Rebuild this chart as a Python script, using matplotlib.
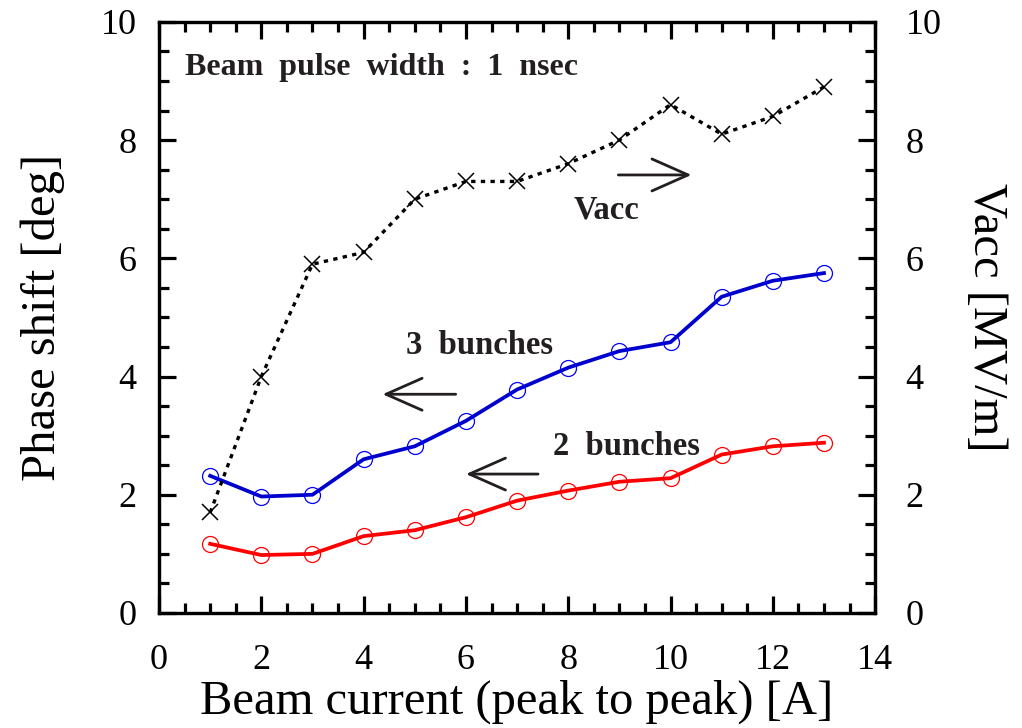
import matplotlib
matplotlib.use("Agg")
import matplotlib.pyplot as plt
from matplotlib.ticker import MultipleLocator

# data
current = [1, 2, 3, 4, 5, 6, 7, 8, 9, 10, 11, 12, 13]
vacc = [1.7, 4.0, 5.9, 6.1, 7.0, 7.3, 7.3, 7.6, 8.0, 8.6, 8.1, 8.4, 8.9]
phase_3b = [2.32, 1.97, 2.0, 2.6, 2.82, 3.25, 3.78, 4.15, 4.43, 4.58, 5.35, 5.62, 5.75]
phase_2b = [1.17, 0.98, 1.0, 1.3, 1.4, 1.62, 1.9, 2.07, 2.22, 2.28, 2.68, 2.82, 2.88]

plt.rcParams["font.family"] = ["Liberation Serif", "DejaVu Serif"]

fig = plt.figure(figsize=(10.22, 7.28), dpi=100)
ax = fig.add_axes([0.1556, 0.158, 0.7007, 0.812])
ax2 = ax.twinx()

ax.plot(current, phase_3b, color="#0000cc", lw=2.7, marker="o", ms=11.5,
        mfc="none", mec="#0000ff", mew=0.9, zorder=3)
ax.plot(current, phase_2b, color="#ff0000", lw=2.7, marker="o", ms=11.5,
        mfc="none", mec="#ff0000", mew=0.9, zorder=3)
ax2.plot(current, vacc, color="black", lw=2.4, linestyle=(0, (1.3, 1.6)),
         marker="x", ms=12, mew=1.1)

for a in (ax, ax2):
    a.set_xlim(0, 14)
    a.set_ylim(0, 10)
    a.yaxis.set_major_locator(MultipleLocator(2))
    a.yaxis.set_minor_locator(MultipleLocator(0.5))
    for s in a.spines.values():
        s.set_linewidth(2.3)
ax.xaxis.set_major_locator(MultipleLocator(2))
ax.xaxis.set_minor_locator(MultipleLocator(0.5))

ax.tick_params(which="both", direction="in", top=True, right=False,
               labelsize=26, width=2.3)
ax.tick_params(axis="y", pad=16)
ax.tick_params(axis="x", pad=22)
ax2.tick_params(which="both", direction="in", labelsize=26, width=2.3, pad=22)
for a in (ax, ax2):
    a.tick_params(which="major", length=12.5)
    a.tick_params(which="minor", length=7.5)

ax.set_xlabel("Beam current (peak to peak) [A]", fontsize=35, labelpad=2)
ax.set_ylabel("Phase shift [deg]", fontsize=35, labelpad=26)
ax2.set_ylabel("Vacc [MV/m]", fontsize=35, labelpad=16, rotation=270, va="bottom")

tc = "#231f20"
ax.text(0.51, 9.22, "Beam  pulse  width  :  1  nsec", fontsize=23, fontweight="bold",
        color=tc, va="center")
ax.text(8.1, 6.82, "Vacc", fontsize=23.5, fontweight="bold", color=tc, va="center")
ax.text(4.82, 4.53, "3  bunches", fontsize=23.5, fontweight="bold", color=tc, va="center")
ax.text(7.7, 2.81, "2  bunches", fontsize=23.5, fontweight="bold", color=tc, va="center")

arrow = dict(arrowstyle="->,head_length=2.6,head_width=1.15", color=tc, lw=2.0,
             mutation_scale=10, shrinkA=0, shrinkB=0)
ax.annotate("", xy=(10.41, 7.41), xytext=(8.98, 7.41), arrowprops=arrow)
ax.annotate("", xy=(4.37, 3.70), xytext=(5.8, 3.70), arrowprops=arrow)
ax.annotate("", xy=(6.0, 2.35), xytext=(7.41, 2.35), arrowprops=arrow)

fig.savefig("out.png", dpi=100)
